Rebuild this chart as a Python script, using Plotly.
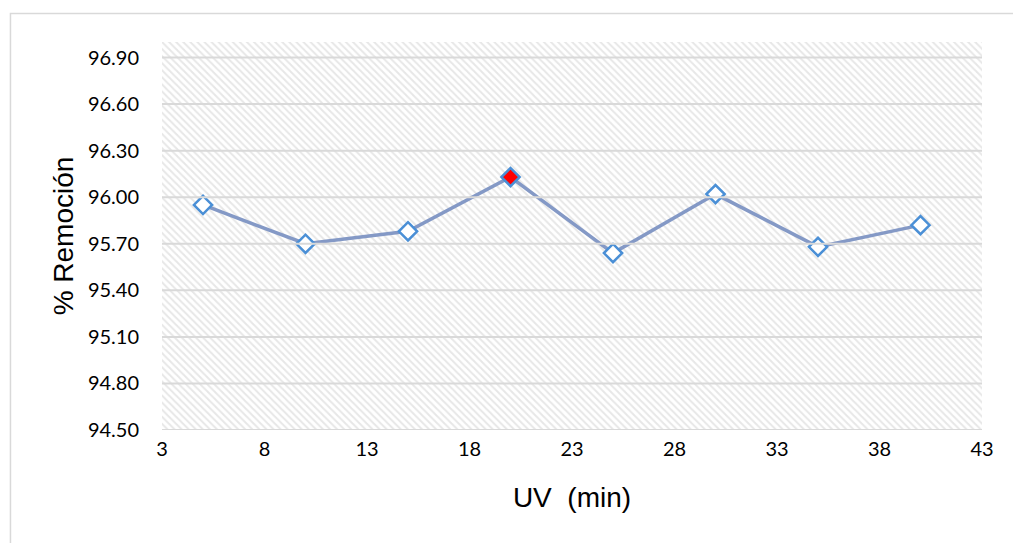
import plotly.graph_objects as go

# UV exposure time (min) and removal percentage
uv_min = [5, 10, 15, 20, 25, 30, 35, 40]
remocion = [95.95, 95.70, 95.78, 96.13, 95.64, 96.02, 95.68, 95.82]
best_index = 3  # highlighted point (maximum removal)

x_range = [3, 43]
y_range = [94.50, 97.00]
x_ticks = [3, 8, 13, 18, 23, 28, 33, 38, 43]
y_ticks = [94.50, 94.80, 95.10, 95.40, 95.70, 96.00, 96.30, 96.60, 96.90]

tick_font = dict(family="Lato, Open Sans, sans-serif", size=20, color="#000000")
title_font = dict(family="Liberation Sans, Arial, sans-serif", size=28, color="#000000")

fig = go.Figure()

# hatched plot-area background
fig.add_trace(go.Scatter(
    x=[x_range[0], x_range[1], x_range[1], x_range[0], x_range[0]],
    y=[y_range[0], y_range[0], y_range[1], y_range[1], y_range[0]],
    mode="lines", line=dict(width=0), fill="toself",
    fillcolor="rgba(0,0,0,0)",
    fillpattern=dict(shape="\\", fgcolor="#cfcfcf", bgcolor="#ffffff",
                     size=5, solidity=0.4),
    hoverinfo="skip", showlegend=False,
))

# horizontal gridlines drawn over the hatch
for yv in y_ticks:
    fig.add_shape(type="line", xref="x", yref="y", x0=x_range[0], x1=x_range[1],
                  y0=yv, y1=yv, line=dict(color="#d9d9d9", width=2), layer="above")

# removal series
fig.add_trace(go.Scatter(
    x=uv_min, y=remocion, mode="lines",
    line=dict(color="#8499c6", width=3.5),
    hoverinfo="skip", showlegend=False,
))
marker_fill = ["#ff0000" if i == best_index else "#ffffff" for i in range(len(uv_min))]
fig.add_trace(go.Scatter(
    x=uv_min, y=remocion, mode="markers",
    marker=dict(symbol="diamond", size=14, color=marker_fill,
                line=dict(color="#4a8fd6", width=2.5)),
    showlegend=False,
))

# outer chart border
fig.add_shape(type="rect", xref="paper", yref="paper",
              x0=-0.1848, x1=1.06, y0=-0.4, y1=1.0735,
              line=dict(color="#d9d9d9", width=1.5), fillcolor="rgba(0,0,0,0)")

fig.update_layout(
    width=1013, height=543,
    margin=dict(l=162, r=31, t=42, b=113),
    paper_bgcolor="#ffffff", plot_bgcolor="#ffffff",
    xaxis=dict(range=x_range, tickvals=x_ticks, ticktext=[str(v) for v in x_ticks],
               showgrid=False, zeroline=False, showline=False,
               ticks="outside", ticklen=1, tickcolor="rgba(0,0,0,0)",
               tickfont=tick_font,
               title=dict(text="UV  (min)", font=title_font, standoff=28)),
    yaxis=dict(range=y_range, tickvals=y_ticks,
               ticktext=[f"{v:.2f}" for v in y_ticks],
               showgrid=False, zeroline=False, showline=False,
               ticks="outside", ticklen=18, tickcolor="rgba(0,0,0,0)",
               tickfont=tick_font,
               title=dict(text="% Remoción", font=title_font, standoff=6)),
)

fig.write_html("out.html")
